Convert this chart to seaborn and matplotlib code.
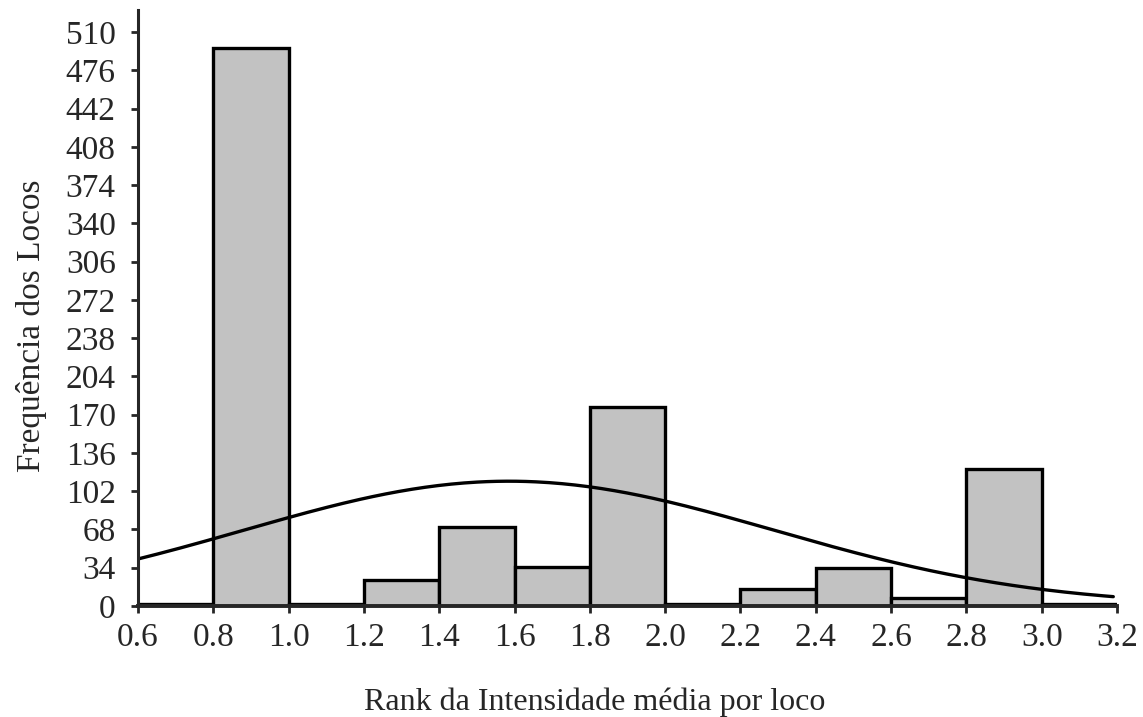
import numpy as np
import pandas as pd
import matplotlib
matplotlib.use("Agg")
import matplotlib.pyplot as plt
import seaborn as sns

# histogram bins (rank of mean intensity per locus)
bin_edges = [0.6, 0.8, 1.0, 1.2, 1.4, 1.6, 1.8, 2.0, 2.2, 2.4, 2.6, 2.8, 3.0, 3.2]
bin_centers = [0.7, 0.9, 1.1, 1.3, 1.5, 1.7, 1.9, 2.1, 2.3, 2.5, 2.7, 2.9, 3.1]
counts = [2, 496, 2, 23, 70, 35, 177, 2, 15, 34, 7, 122, 2]

# fitted normal curve
curve_mean = 1.585
curve_sd = 0.705
curve_n = 980

y_ticks = [0, 34, 68, 102, 136, 170, 204, 238, 272, 306, 340, 374, 408, 442, 476, 510]
x_ticks = [0.6, 0.8, 1.0, 1.2, 1.4, 1.6, 1.8, 2.0, 2.2, 2.4, 2.6, 2.8, 3.0, 3.2]

sns.set_style("ticks")
plt.rcParams['font.family'] = ['Liberation Serif', 'DejaVu Serif']

df = pd.DataFrame({"rank": bin_centers, "freq": counts})

xs = np.linspace(0.6, 3.19, 300)
width = bin_edges[1] - bin_edges[0]
ys = curve_n * width / (curve_sd * np.sqrt(2 * np.pi)) * np.exp(-0.5 * ((xs - curve_mean) / curve_sd) ** 2)
curve = pd.DataFrame({"x": xs, "y": ys})

fig = plt.figure(figsize=(11.43, 7.17), dpi=100)
ax = fig.add_axes([0.1207, 0.1548, 0.8566, 0.831])

sns.histplot(data=df, x="rank", weights="freq", bins=bin_edges, ax=ax,
             color="#c2c2c2", edgecolor="black", linewidth=2.4, alpha=1)
sns.lineplot(data=curve, x="x", y="y", ax=ax, color="black", linewidth=2.4)

ax.set_xlim(0.6, 3.2)
ax.set_ylim(0, 529.5)
ax.set_xticks(x_ticks)
ax.set_xticklabels([f"{t:.1f}" for t in x_ticks])
ax.set_yticks(y_ticks)
ax.tick_params(axis="both", labelsize=24, width=2, length=5, direction="out")
ax.tick_params(axis="x", pad=7)
ax.tick_params(axis="y", pad=11)

ax.set_xlabel("Rank da Intensidade média por loco", fontsize=23, labelpad=25)
ax.xaxis.label.set_x(0.466)
ax.set_ylabel("Frequência dos Locos", fontsize=24, labelpad=13)
ax.yaxis.label.set_y(0.47)

for side in ["top", "right"]:
    ax.spines[side].set_visible(False)
ax.spines["left"].set_linewidth(2.2)
ax.spines["bottom"].set_linewidth(2.8)

fig.savefig("out.png", dpi=100)
